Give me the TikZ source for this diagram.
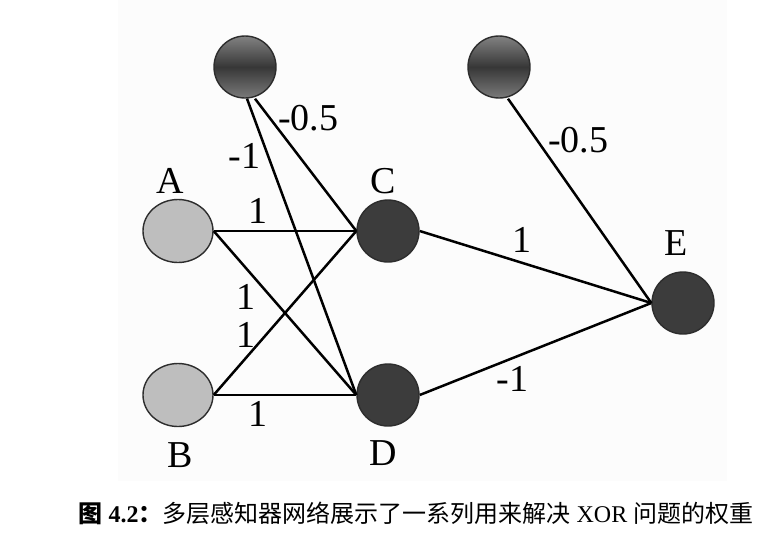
\documentclass[tikz,border=0pt]{standalone}
\usepackage{fontspec}
\setmainfont{Liberation Serif}
\newfontfamily\cjk{Noto Sans CJK SC}
\usetikzlibrary{shapes.geometric}
\definecolor{panel}{RGB}{252,252,252}
\definecolor{lightnode}{RGB}{190,190,190}
\definecolor{darknode}{RGB}{60,60,60}
\definecolor{rim}{RGB}{45,45,45}
\definecolor{biastop}{RGB}{130,130,130}
\definecolor{biasmid}{RGB}{55,55,55}
\definecolor{biasbottom}{RGB}{122,122,122}
\tikzstyle{input} = [ellipse,
minimum width=35pt,
minimum height=31.5pt,
inner sep=0pt,
fill=lightnode,
draw=rim, line width=0.7pt]
\tikzstyle{neuron} = [circle,
minimum size=31pt,
inner sep=0pt,
fill=darknode,
draw=rim, line width=0.7pt]
\tikzstyle{bias} = [circle,
minimum size=31pt,
inner sep=0pt,
top color=biastop, bottom color=biasbottom, middle color=biasmid,
draw=rim, line width=0.7pt]
\tikzstyle{tag} = [inner sep=2pt]
\tikzstyle{weight} = [inner sep=2pt]
\tikzstyle{wire} = [line width=1.25pt]

\begin{document}
\begin{tikzpicture}[every node/.append style={font=\fontsize{19}{22}\selectfont}, node distance = 105pt]
        \useasboundingbox (0,0) rectangle (387.5pt,-273pt);
        \fill [panel] (59pt,0) rectangle (363.5pt,-240.5pt);

        \node (A) [input, label={[tag, xshift=-4pt, yshift=0.5pt]above:A}] at (89pt,-115.5pt) {};
        \node (C) [neuron, right of=A, label={[tag, xshift=-2.5pt, yshift=0.5pt]above:C}] {};
        \node (B) [input, below of=A, node distance=82pt, label={[tag, xshift=1pt, yshift=-5.5pt]below:B}] {};
        \node (D) [neuron, right of=B, label={[tag, xshift=-2.5pt, yshift=-5pt]below:D}] {};
        \node (biasC) [bias] at (122.5pt,-33.5pt) {};
        \node (biasE) [bias] at (249.5pt,-33.5pt) {};
        \node (E) [neuron, label={[tag, xshift=-3.5pt, yshift=5.5pt]above:E}] at (341.5pt,-151.5pt) {};

        \draw [wire] (A.east) -- node[weight, pos=0.31, above=1pt] {1} (C.west);
        \draw [wire] (A.east) -- node[weight, pos=0.4, left=4.75pt] {1} (D.west);
        \draw [wire] (B.east) -- node[weight, pos=0.366, left=2.75pt] {1} (C.west);
        \draw [wire] (B.east) -- node[weight, pos=0.31, below=0.6pt] {1} (D.west);
        \draw [wire] ([xshift=5pt]biasC.south) -- node[weight, pos=0.15, right=1.35pt] {-0.5} (C.west);
        \draw [wire] ([xshift=1pt]biasC.south) -- node[weight, pos=0.192, left=1.1pt] {-1} (D.west);
        \draw [wire] (C.east) -- node[weight, pos=0.44, above=2.6pt] {1} (E.west);
        \draw [wire] (D.east) -- node[weight, pos=0.4, below=1.6pt] {-1} (E.west);
        \draw [wire] ([xshift=4.5pt]biasE.south) -- node[weight, pos=0.205, right=2.75pt] {-0.5} (E.west);

        \node (caption) [font=\fontsize{12}{14}\selectfont] at (208pt,-256.5pt) {{\bfseries\cjk 图} \textbf{4.2}{\bfseries\cjk ：}{\cjk 多层感知器网络展示了一系列用来解决} XOR {\cjk 问题的权重}};
\end{tikzpicture}
\end{document}
